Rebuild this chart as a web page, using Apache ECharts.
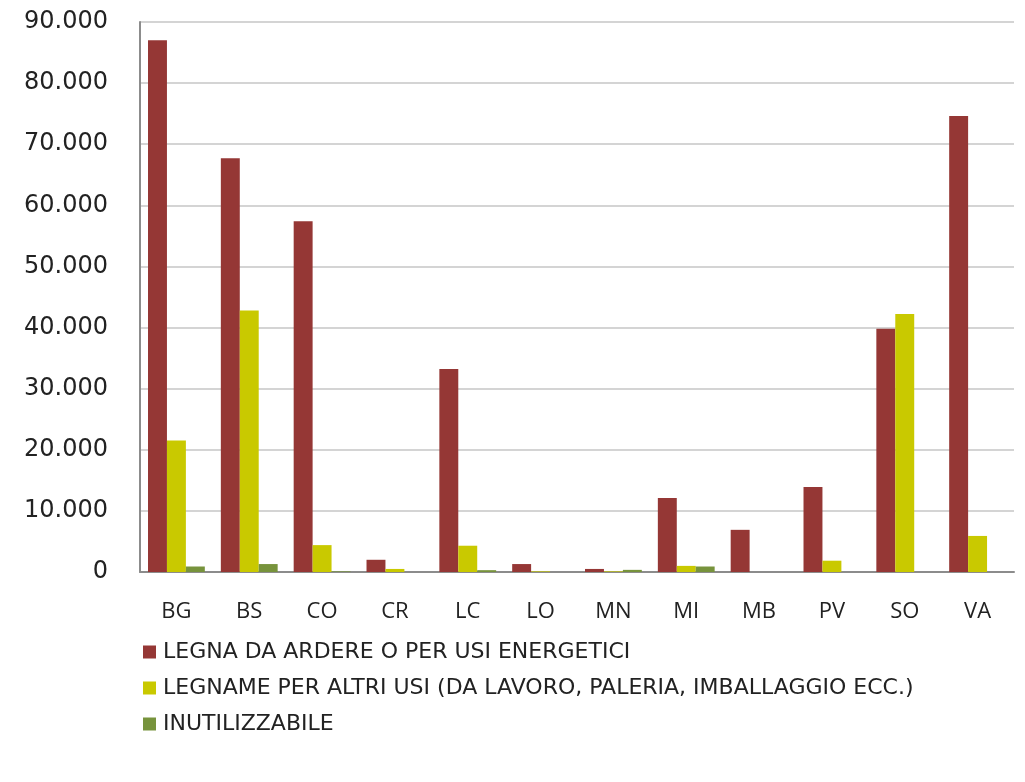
<!DOCTYPE html>
<html>
<head>
<meta charset="utf-8">
<script src="https://cdn.jsdelivr.net/npm/echarts@6/dist/echarts.min.js"></script>
<style>
    html, body { margin: 0; padding: 0; background: #fff; }
    #chart { width: 1025px; height: 782px; }
</style>
</head>
<body>
<div id="chart"></div>
<script>
'use strict';

var province = ['BG', 'BS', 'CO', 'CR', 'LC', 'LO', 'MN', 'MI', 'MB', 'PV', 'SO', 'VA'];
var legnaArdere = [87000, 67700, 57400, 2000, 33200, 1300, 500, 12100, 6900, 13900, 39800, 74600];
var legnameAltri = [21500, 42800, 4400, 500, 4300, 100, 100, 1000, 0, 1850, 42200, 5900];
var inutilizzabile = [900, 1300, 100, 0, 300, 0, 350, 900, 0, 0, 0, 0];
var seriesNames = [
    'LEGNA DA ARDERE O PER USI ENERGETICI',
    'LEGNAME PER ALTRI USI (DA LAVORO, PALERIA, IMBALLAGGIO ECC.)',
    'INUTILIZZABILE'
];
var yTicks = [0, 10000, 20000, 30000, 40000, 50000, 60000, 70000, 80000, 90000];

// y labels with dot as thousands separator
function formatThousands(v) {
    return String(v).replace(/\B(?=(\d{3})+(?!\d))/g, '.');
}

var chart = echarts.init(document.getElementById('chart'));

chart.setOption({
    backgroundColor: '#fff',
    animation: false,
    color: ['#953735', '#c9c900', '#77933c'],
    grid: {
        left: 140,
        right: 11,
        top: 22,
        bottom: 210
    },
    legend: {
        orient: 'vertical',
        left: 138,
        top: 636,
        itemWidth: 13,
        itemHeight: 13,
        itemGap: 14,
        icon: 'rect',
        textStyle: {
            fontFamily: 'DejaVu Sans',
            fontSize: 22,
            color: '#222',
            padding: [0, 0, 0, 2]
        },
        data: seriesNames
    },
    xAxis: {
        type: 'category',
        data: province,
        axisLine: { lineStyle: { color: '#8c8c8c', width: 2 } },
        axisTick: { show: false },
        axisLabel: {
            fontFamily: 'Open Sans',
            fontSize: 22,
            color: '#222',
            margin: 29
        }
    },
    yAxis: {
        type: 'value',
        min: yTicks[0],
        max: yTicks[yTicks.length - 1],
        interval: 10000,
        axisLine: { show: true, lineStyle: { color: '#8c8c8c', width: 2 } },
        axisTick: { show: false },
        splitLine: { lineStyle: { color: '#d4d4d4', width: 2 } },
        axisLabel: {
            fontFamily: 'DejaVu Sans',
            fontSize: 24,
            color: '#222',
            margin: 32,
            formatter: formatThousands
        }
    },
    series: [
        {
            name: seriesNames[0],
            type: 'bar',
            data: legnaArdere,
            barGap: '0%',
            barCategoryGap: '22%'
        },
        {
            name: seriesNames[1],
            type: 'bar',
            data: legnameAltri,
            barGap: '0%',
            barCategoryGap: '22%'
        },
        {
            name: seriesNames[2],
            type: 'bar',
            data: inutilizzabile,
            barGap: '0%',
            barCategoryGap: '22%'
        }
    ]
});
</script>
</body>
</html>
